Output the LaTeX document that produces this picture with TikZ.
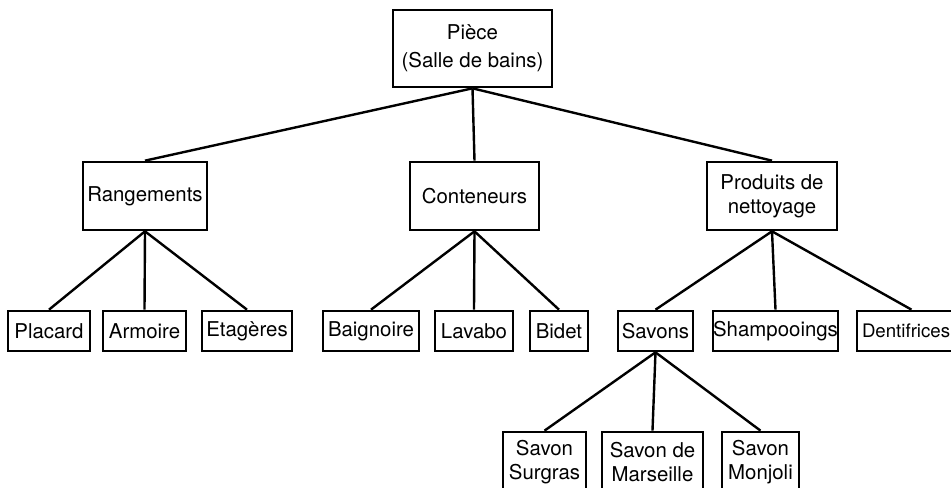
\documentclass[tikz,border=0pt]{standalone}
\usepackage{fontspec}
\setmainfont{TeX Gyre Heros}
\begin{document}
\begin{tikzpicture}[x=0.75pt, y=-0.75pt, font=\fontsize{15.3}{18}\selectfont,
	boite/.style 2 args={draw, line width=2pt, inner sep=0pt, align=center,
		minimum width=#1*0.75pt, minimum height=#2*0.75pt},
	lien/.style={line width=1.8pt}]
	\useasboundingbox (0,0) rectangle (951,488);
	
	%room
	\node[boite={159}{77}] (piece) at (472.5, 48.5){Pièce\\[3pt](Salle de bains)};
	
	%categories
	\node[boite={124}{68}] (rangements) at (145, 196){Rangements};
	\node[boite={129}{68}] (conteneurs) at (474.5, 196){Conteneurs};
	\node[boite={130}{68}] (produits) at (772, 196){Produits de\\nettoyage};
	
	%objects
	\node[boite={82}{40}] (placard) at (49, 331){Placard};
	\node[boite={83}{40}] (armoire) at (144.5, 331){Armoire};
	\node[boite={90}{40}] (etageres) at (247, 331){Etagères};
	\node[boite={96}{40}] (baignoire) at (371, 331){Baignoire};
	\node[boite={78}{40}] (lavabo) at (474, 331){Lavabo};
	\node[boite={58}{40}] (bidet) at (559, 331){Bidet};
	\node[boite={75}{40}] (savons) at (655.5, 331){Savons};
	\node[boite={125}{40}] (shampooings) at (775.5, 331){Shampooings};
	\node[boite={109}{40}, inner xsep=5*0.75pt, text width=99*0.75pt, align=left,
		font=\fontsize{14}{18}\selectfont] (dentifrices) at (911.5, 331){Dentifrices};
	
	%soaps
	\node[boite={83}{60}] (surgras) at (544.5, 462){Savon\\Surgras};
	\node[boite={101}{60}] (marseille) at (652.5, 462){Savon de\\Marseille};
	\node[boite={77}{60}] (monjoli) at (760.5, 462){Savon\\Monjoli};
	
	%links
	\foreach \c in {rangements, conteneurs, produits}{
		\draw[lien] (piece.south) -- (\c.north);
	}
	\foreach \c in {placard, armoire, etageres}{
		\draw[lien] (rangements.south) -- (\c.north);
	}
	\foreach \c in {baignoire, lavabo, bidet}{
		\draw[lien] (conteneurs.south) -- (\c.north);
	}
	\foreach \c in {savons, shampooings, dentifrices}{
		\draw[lien] (produits.south) -- (\c.north);
	}
	\foreach \c in {surgras, marseille, monjoli}{
		\draw[lien] (savons.south) -- (\c.north);
	}
\end{tikzpicture}
\end{document}
